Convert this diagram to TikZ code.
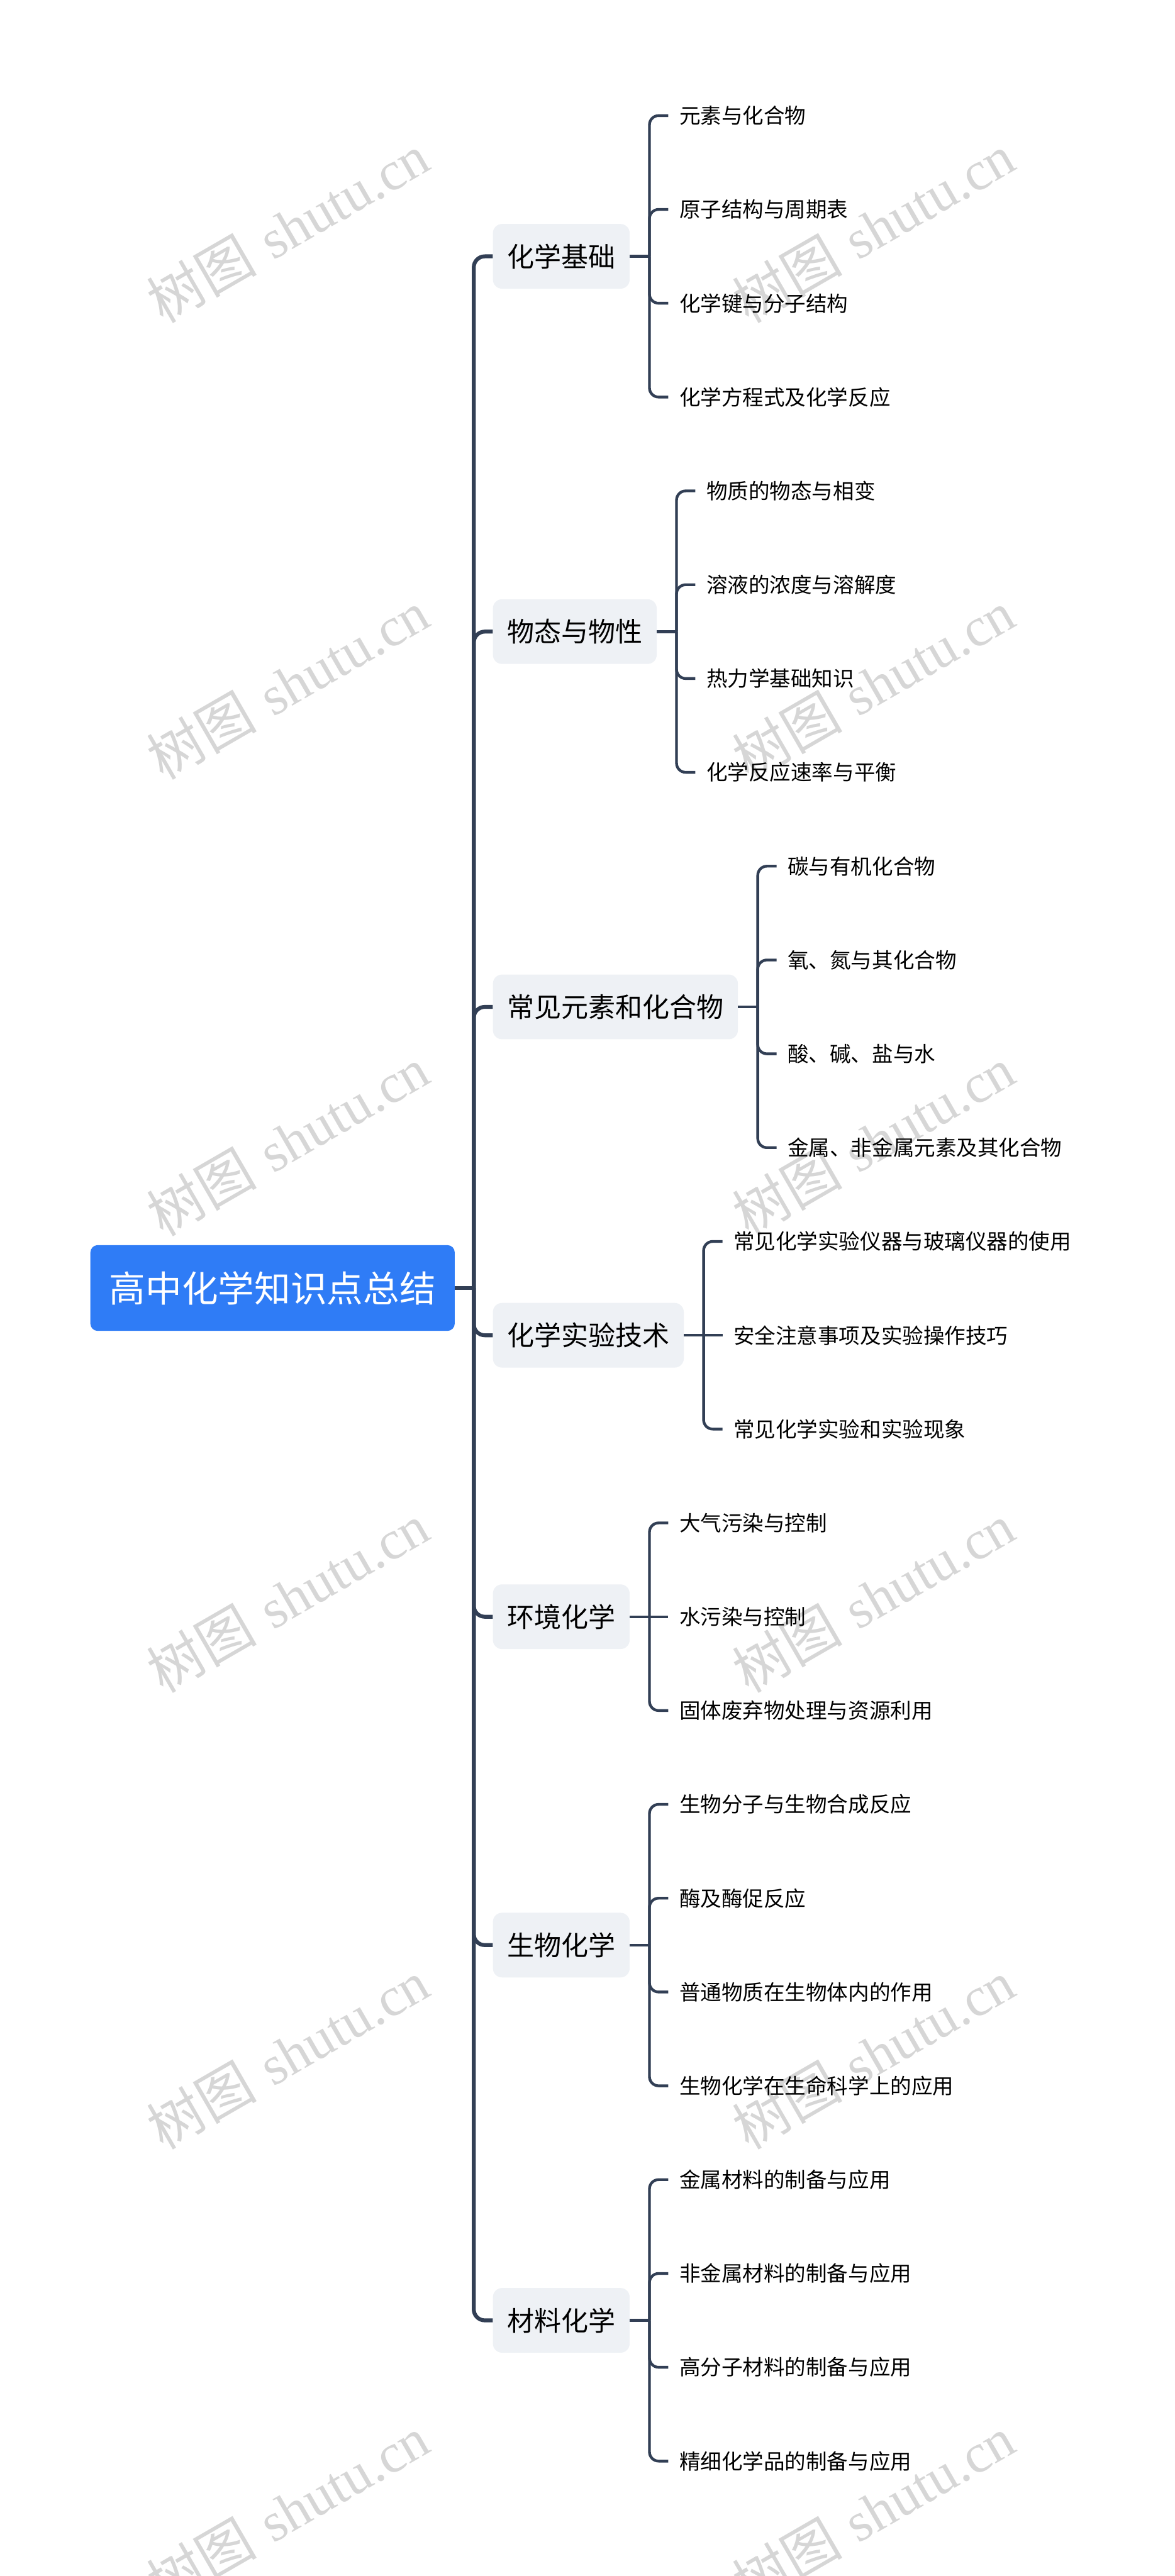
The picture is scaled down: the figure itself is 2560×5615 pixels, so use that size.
\documentclass[tikz,border=0pt]{standalone}
\usepackage{fontspec}
\newfontfamily\cjk{Noto Sans CJK SC}
\newfontfamily\wmserif{Liberation Serif}
\usetikzlibrary{calc}
\definecolor{rootblue}{HTML}{2F7CF6}
\definecolor{linec}{HTML}{323F55}
\definecolor{topicfill}{HTML}{EEF1F5}
\definecolor{wmgray}{HTML}{D6D6D6}
\newcommand\leafc[4]{%
  \coordinate (#2x) at ([xshift=108pt]#1.east);
  \node[leaf] (#2) at (#2x |- 0,#3) {#4};
  \draw[subline, rounded corners=20pt] ([xshift=43pt]#1.east) |- ([xshift=-24pt]#2.west);
}
\newcommand\leafm[4]{%
  \coordinate (#2x) at ([xshift=108pt]#1.east);
  \node[leaf] (#2) at (#2x |- 0,#3) {#4};
  \draw[subline] ([xshift=43pt]#1.east) -- ([xshift=-24pt]#2.west);
}
\newcommand\topicstem[1]{%
  \draw[subline] (#1.east) -- ([xshift=43pt]#1.east);
}
\begin{document}
\begin{tikzpicture}[x=1pt,y=-1pt,
  rootnode/.style={fill=rootblue, rounded corners=16pt, minimum width=794pt, minimum height=187pt, inner sep=0pt, text=white, font=\cjk\fontsize{79}{90}\selectfont},
  topic/.style={fill=topicfill, rounded corners=20pt, minimum height=141pt, inner xsep=31pt, inner ysep=0pt, text=black, font=\cjk\fontsize{59}{66}\selectfont, anchor=west},
  leaf/.style={inner sep=0pt, text=black, font=\cjk\fontsize{46}{52}\selectfont, anchor=west},
  mainline/.style={draw=linec, line width=8.5pt},
  subline/.style={draw=linec, line width=6pt},
  wm/.style={text=wmgray, rotate=30, anchor=base, inner sep=0pt, font=\fontsize{120}{130}\selectfont}
]
\useasboundingbox[fill=white] (0,0) rectangle (2560,5615);

% watermarks
\begin{scope}
\clip (0,0) rectangle (2560,5615);
\foreach \i in {0,...,5}{
  \node[wm] (wml\i) at (650, 537+995*\i) {{\cjk 树图} {\wmserif shutu.cn}};
  \node[wm] (wmr\i) at (1926, 537+995*\i) {{\cjk 树图} {\wmserif shutu.cn}};
}
\end{scope}

% root
\node[rootnode] (root) at (594, 2807.5) {高中化学知识点总结};
\coordinate (spine) at (1032.5, 2807.5);

% topics
\node[topic] (t1) at (1074, 558.75) {化学基础};
\node[topic] (t2) at (1074, 1376.75) {物态与物性};
\node[topic] (t3) at (1074, 2194.75) {常见元素和化合物};
\node[topic] (t4) at (1074, 2910.5) {化学实验技术};
\node[topic] (t5) at (1074, 3524) {环境化学};
\node[topic] (t6) at (1074, 4239.75) {生物化学};
\node[topic] (t7) at (1074, 5057.75) {材料化学};

% main connectors
\draw[mainline] (root.east) -- (spine);
\foreach \t in {t1,t2,t3,t4,t5,t6,t7}{
  \draw[mainline, rounded corners=24pt] (spine) |- (\t.west);
}

% topic 1
\topicstem{t1}
\leafc{t1}{a1}{252}{元素与化合物}
\leafc{t1}{a2}{456.5}{原子结构与周期表}
\leafc{t1}{a3}{661}{化学键与分子结构}
\leafc{t1}{a4}{865.5}{化学方程式及化学反应}

% topic 2
\topicstem{t2}
\leafc{t2}{b1}{1070}{物质的物态与相变}
\leafc{t2}{b2}{1274.5}{溶液的浓度与溶解度}
\leafc{t2}{b3}{1479}{热力学基础知识}
\leafc{t2}{b4}{1683.5}{化学反应速率与平衡}

% topic 3
\topicstem{t3}
\leafc{t3}{c1}{1888}{碳与有机化合物}
\leafc{t3}{c2}{2092.5}{氧、氮与其化合物}
\leafc{t3}{c3}{2297}{酸、碱、盐与水}
\leafc{t3}{c4}{2501.5}{金属、非金属元素及其化合物}

% topic 4
\topicstem{t4}
\leafc{t4}{d1}{2706}{常见化学实验仪器与玻璃仪器的使用}
\leafm{t4}{d2}{2910.5}{安全注意事项及实验操作技巧}
\leafc{t4}{d3}{3115}{常见化学实验和实验现象}

% topic 5
\topicstem{t5}
\leafc{t5}{e1}{3319.5}{大气污染与控制}
\leafm{t5}{e2}{3524}{水污染与控制}
\leafc{t5}{e3}{3728.5}{固体废弃物处理与资源利用}

% topic 6
\topicstem{t6}
\leafc{t6}{f1}{3933}{生物分子与生物合成反应}
\leafc{t6}{f2}{4137.5}{酶及酶促反应}
\leafc{t6}{f3}{4342}{普通物质在生物体内的作用}
\leafc{t6}{f4}{4546.5}{生物化学在生命科学上的应用}

% topic 7
\topicstem{t7}
\leafc{t7}{g1}{4751}{金属材料的制备与应用}
\leafc{t7}{g2}{4955.5}{非金属材料的制备与应用}
\leafc{t7}{g3}{5160}{高分子材料的制备与应用}
\leafc{t7}{g4}{5364.5}{精细化学品的制备与应用}
\end{tikzpicture}
\end{document}
